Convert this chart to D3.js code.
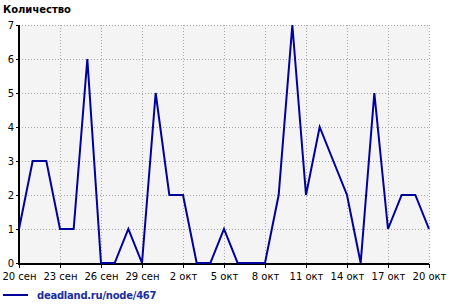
<!DOCTYPE html>
<html lang="ru">
<head>
<meta charset="utf-8">
<title></title>
<script src="https://d3js.org/d3.v7.min.js"></script>
<style>
  body { margin: 0; background: #fff; }
  text { font-family: "DejaVu Sans", sans-serif; }
</style>
</head>
<body>
<div id="chart"></div>
<script>
// daily counts, 20 Sep .. 20 Oct
var startDate = new Date(2010, 8, 20);
var counts = [1, 3, 3, 1, 1, 6, 0, 0, 1, 0, 5, 2, 2, 0, 0, 1, 0, 0, 0, 2, 7, 2, 4, 3, 2, 0, 5, 1, 2, 2, 1];
var yTicks = [0, 1, 2, 3, 4, 5, 6, 7];
var months = ["янв", "фев", "мар", "апр", "май", "июн", "июл", "авг", "сен", "окт", "ноя", "дек"];
var seriesName = "deadland.ru/node/467";
var yTitle = "Количество";

var data = counts.map(function(v, i) {
  return { date: d3.timeDay.offset(startDate, i), value: v };
});

var W = 450, H = 305;
var margin = {top: 25, right: 21, bottom: 41, left: 19};
var width = W - margin.left - margin.right,
    height = H - margin.top - margin.bottom;

var svg = d3.select("#chart").append("svg")
  .attr("width", W).attr("height", H);

var g = svg.append("g")
  .attr("transform", "translate(" + margin.left + "," + margin.top + ")");

var x = d3.scaleTime()
  .domain([data[0].date, data[data.length - 1].date])
  .range([0, width]);
var y = d3.scaleLinear().domain([0, 7]).range([height - 1, 0]);

var xTicks = data.filter(function(d, i) { return i % 3 == 0; }).map(function(d) { return d.date; });

// plot background
g.append("rect")
  .attr("width", width).attr("height", height)
  .attr("fill", "#f4f4f4");

// grid
g.selectAll(".hgrid").data(yTicks.slice(1)).enter().append("line")
  .attr("x1", 0).attr("x2", width)
  .attr("y1", function(d) { return Math.round(y(d)) + 0.5; })
  .attr("y2", function(d) { return Math.round(y(d)) + 0.5; })
  .attr("stroke", "#a8a8a8").attr("stroke-dasharray", "1,2");
g.selectAll(".vgrid").data(xTicks.slice(1)).enter().append("line")
  .attr("y1", 0).attr("y2", height)
  .attr("x1", function(d) { return Math.round(x(d)) + 0.5; })
  .attr("x2", function(d) { return Math.round(x(d)) + 0.5; })
  .attr("stroke", "#a8a8a8").attr("stroke-dasharray", "1,2");

// axes
var xAxis = d3.axisBottom(x)
  .tickValues(xTicks)
  .tickSize(4)
  .tickFormat(function(d) { return d.getDate() + " " + months[d.getMonth()]; });
var xg = g.append("g").attr("transform", "translate(0," + height + ")").call(xAxis);
xg.select(".domain").attr("stroke", "#000").attr("stroke-width", 2).attr("d", "M-1,0H" + width);
xg.selectAll("text").attr("font-size", 10).attr("fill", "#000").attr("dy", "0.9em");

var yAxis = d3.axisLeft(y).tickValues(yTicks).tickSize(3).tickFormat(d3.format("d"));
var yg = g.append("g").call(yAxis);
yg.select(".domain").attr("stroke", "#000").attr("stroke-width", 2).attr("d", "M0,0V" + (height + 1));
yg.selectAll("text").attr("font-size", 10).attr("fill", "#000").attr("x", -5);

// series (drawn over the axes)
var line = d3.line()
  .x(function(d) { return x(d.date); })
  .y(function(d) { return y(d.value); });
g.append("path").datum(data)
  .attr("d", line)
  .attr("fill", "none")
  .attr("stroke", "#00009c")
  .attr("stroke-width", 2);

// title
svg.append("text")
  .attr("x", 3).attr("y", 13)
  .attr("font-size", 10).attr("font-weight", "bold")
  .text(yTitle);

// legend
svg.append("line")
  .attr("x1", 3).attr("x2", 28).attr("y1", 295).attr("y2", 295)
  .attr("stroke", "#00009c").attr("stroke-width", 2);
svg.append("text")
  .attr("x", 37).attr("y", 299)
  .attr("font-size", 10).attr("font-weight", "bold")
  .attr("letter-spacing", "-0.25")
  .attr("fill", "#1a2ea0")
  .text(seriesName);
</script>
</body>
</html>
